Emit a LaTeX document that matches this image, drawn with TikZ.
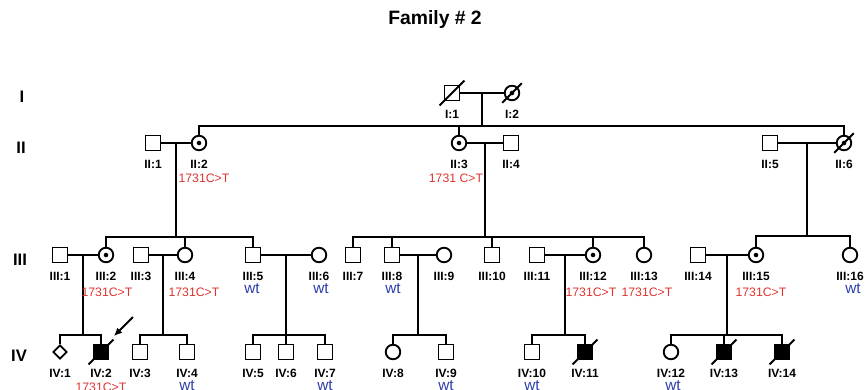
\documentclass[tikz,border=0pt]{standalone}
\usepackage{fontspec}
\setmainfont{Liberation Sans}
\usetikzlibrary{arrows.meta, positioning, calc, shapes.geometric}

\definecolor{mutred}{RGB}{222,52,48}
\definecolor{wtblue}{RGB}{44,62,168}

\begin{document}
\begin{tikzpicture}[
      x=0.75pt, y=-0.75pt, line width=1.4pt,
      male/.style={draw, rectangle, minimum size=11.25pt, inner sep=0pt},
      female/.style={draw, circle, minimum size=10.9pt, inner sep=0pt},
      sexunk/.style={draw, diamond, minimum size=10.5pt, inner sep=0pt},
      carrier/.style={female, path picture={\fill (path picture bounding box.center) circle (1.7pt);}},
      aff/.style={male, fill=black},
      lab/.style={font=\fontsize{9}{10}\selectfont\bfseries, anchor=base, inner sep=0pt},
      mut/.style={font=\fontsize{9.2}{10}\selectfont, text=mutred, anchor=base, inner sep=0pt},
      wtlab/.style={font=\fontsize{11.5}{12}\selectfont, text=wtblue, anchor=base, inner sep=0pt},
      gen/.style={font=\fontsize{12.5}{14}\selectfont\bfseries},
      arr/.style={-{Latex[length=6pt, width=5.5pt]}, line width=1.5pt}
    ]
    \useasboundingbox (0,0) rectangle (867,389);

    \node[font=\fontsize{14.5}{16}\selectfont\bfseries] (title) at (435,20) {Family \# 2};
    \node[gen] (gI) at (22,97) {I};
    \node[gen] (gII) at (21,148) {II};
    \node[gen] (gIII) at (20,260) {III};
    \node[gen] (gIV) at (19,356) {IV};

    % generation I
    \node[male] (i1) at (452,93) {};
    \node[carrier] (i2) at (512,93) {};
    % generation II
    \node[male] (ii1) at (153,143) {};
    \node[carrier] (ii2) at (199,143) {};
    \node[carrier] (ii3) at (459,143) {};
    \node[male] (ii4) at (511,143) {};
    \node[male] (ii5) at (770,143) {};
    \node[carrier] (ii6) at (844,143) {};
    % generation III
    \node[male] (iii1) at (60,255) {};
    \node[carrier] (iii2) at (106,255) {};
    \node[male] (iii3) at (141,255) {};
    \node[female] (iii4) at (185,255) {};
    \node[male] (iii5) at (253,255) {};
    \node[female] (iii6) at (319,255) {};
    \node[male] (iii7) at (353,255) {};
    \node[male] (iii8) at (392,255) {};
    \node[female] (iii9) at (444,255) {};
    \node[male] (iii10) at (492,255) {};
    \node[male] (iii11) at (537,255) {};
    \node[carrier] (iii12) at (593,255) {};
    \node[female] (iii13) at (644,255) {};
    \node[male] (iii14) at (698,255) {};
    \node[carrier] (iii15) at (756,255) {};
    \node[female] (iii16) at (850,255) {};
    % generation IV
    \node[sexunk] (iv1) at (60,352) {};
    \node[aff] (iv2) at (101,352) {};
    \node[male] (iv3) at (140,352) {};
    \node[male] (iv4) at (187,352) {};
    \node[male] (iv5) at (253,352) {};
    \node[male] (iv6) at (286,352) {};
    \node[male] (iv7) at (325,352) {};
    \node[female] (iv8) at (393,352) {};
    \node[male] (iv9) at (446,352) {};
    \node[male] (iv10) at (532,352) {};
    \node[aff] (iv11) at (585,352) {};
    \node[female] (iv12) at (671,352) {};
    \node[aff] (iv13) at (724,352) {};
    \node[aff] (iv14) at (782,352) {};

    % couples
    \foreach \a/\b/\m in {i1/i2/mI, ii1/ii2/mA, ii3/ii4/mB, ii5/ii6/mC,
        iii1/iii2/m1, iii3/iii4/m2, iii5/iii6/m3, iii8/iii9/m4, iii11/iii12/m5, iii14/iii15/m6} {
      \draw (\a) -- (\b);
      \coordinate (\m) at ($(\a)!0.5!(\b)$);
    }
    % sibships
    \foreach \m/\d/\f/\l in {mI/33/ii2/ii6, mA/94/iii2/iii5, mB/94/iii7/iii13, mC/93/iii15/iii16,
        m1/80/iv1/iv2, m2/80/iv3/iv4, m3/80/iv5/iv7, m4/80/iv8/iv9, m5/80/iv10/iv11, m6/80/iv12/iv14} {
      \draw (\m) -- ++(0,\d) coordinate (s\m);
      \draw (\f.north) |- (s\m) -| (\l.north);
    }
    \foreach \k/\s in {ii3/smI, iii4/smA, iii8/smB, iii10/smB, iii12/smB, iv6/sm3, iv13/sm6}
      \draw (\k.north) -- (\k.north |- \s);

    % deceased
    \foreach \n in {i1, i2, ii6, iv2, iv11, iv13, iv14}
      \draw ([shift={(-4,4)}]\n.south west) -- ([shift={(4,-4)}]\n.north east);

    % proband
    \coordinate (pa) at (133,317);
    \coordinate (pb) at (114,336);
    \draw[arr] (pa) -- (pb);

    % ids
    \foreach \n/\t in {i1/I:1, i2/I:2, ii1/II:1, ii2/II:2, ii3/II:3, ii4/II:4, ii5/II:5, ii6/II:6,
        iii1/III:1, iii2/III:2, iii3/III:3, iii4/III:4, iii5/III:5, iii6/III:6, iii7/III:7, iii8/III:8,
        iii9/III:9, iii10/III:10, iii11/III:11, iii12/III:12, iii13/III:13, iii14/III:14, iii15/III:15, iii16/III:16,
        iv1/IV:1, iv2/IV:2, iv3/IV:3, iv4/IV:4, iv5/IV:5, iv6/IV:6, iv7/IV:7, iv8/IV:8, iv9/IV:9,
        iv10/IV:10, iv11/IV:11, iv12/IV:12, iv13/IV:13, iv14/IV:14}
      \node[lab] (l\n) at ($(\n)+(0,25)$) {\t};

    % genotypes
    \node[mut] (g-ii2) at (204,182) {1731C>T};
    \node[mut] (g-ii3) at (456,182) {1731 C>T};
    \node[mut] (g-iii2) at (107,296) {1731C>T};
    \node[mut] (g-iii4) at (194,296) {1731C>T};
    \node[mut] (g-iii12) at (591,296) {1731C>T};
    \node[mut] (g-iii13) at (647,296) {1731C>T};
    \node[mut] (g-iii15) at (761,296) {1731C>T};
    \node[mut] (g-iv2) at (101,391) {1731C>T};
    \node[wtlab] (g-iii5) at (252,293) {wt};
    \node[wtlab] (g-iii6) at (321,293) {wt};
    \node[wtlab] (g-iii8) at (393,293) {wt};
    \node[wtlab] (g-iii16) at (853,293) {wt};
    \node[wtlab] (g-iv4) at (187,390) {wt};
    \node[wtlab] (g-iv7) at (325,390) {wt};
    \node[wtlab] (g-iv9) at (446,390) {wt};
    \node[wtlab] (g-iv10) at (532,390) {wt};
    \node[wtlab] (g-iv12) at (673,390) {wt};
  \end{tikzpicture}
\end{document}
